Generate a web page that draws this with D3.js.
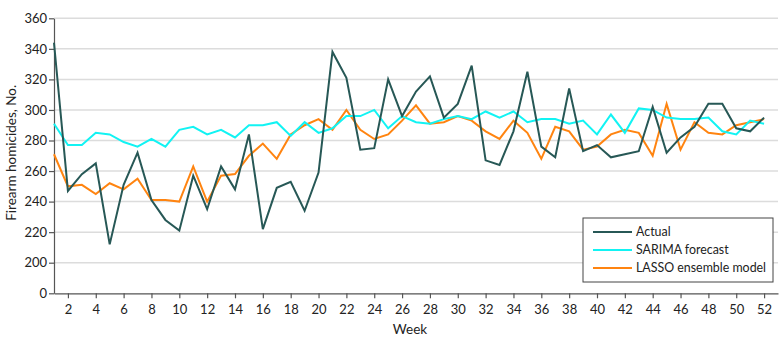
<!DOCTYPE html>
<html>
<head>
<meta charset="utf-8">
<script src="https://cdn.jsdelivr.net/npm/d3@7"></script>
<style>
  body { margin: 0; background: #fff; }
  text { font-family: Lato, sans-serif; fill: #222; }
</style>
</head>
<body>
<script>
let width = 780,
    height = 348

const weeks = d3.range(1, 53)
const actual = [344, 247, 258, 265, 212, 251, 272, 241, 228, 221, 257, 235, 263, 248,
  284, 222, 249, 253, 234, 259, 338, 321, 274, 275, 320, 296, 312, 322, 295, 304,
  329, 267, 264, 286, 325, 276, 269, 314, 273, 277, 269, 271, 273, 302, 272, 282,
  289, 304, 304, 288, 286, 295]
const sarima = [291, 277, 277, 285, 284, 279, 276, 281, 276, 287, 289, 284, 287, 282,
  290, 290, 292, 283, 292, 285, 288, 296, 296, 300, 288, 296, 292, 291, 294, 296,
  294, 299, 295, 299, 292, 294, 294, 291, 293, 284, 297, 285, 301, 300, 295, 294,
  294, 295, 286, 284, 293, 291]
const lasso = [271, 250, 251, 245, 252, 248, 255, 241, 241, 240, 263, 240, 257, 258,
  270, 278, 268, 284, 290, 294, 287, 300, 287, 281, 284, 293, 303, 291, 292, 296,
  293, 286, 281, 293, 285, 268, 289, 286, 274, 276, 284, 287, 285, 270, 304, 274,
  292, 285, 284, 290, 292, 294]
const yTicks = [0, 200, 220, 240, 260, 280, 300, 320, 340, 360]
const xTicks = d3.range(2, 53, 2)

const series = [
  {name: 'Actual', values: actual, color: '#275856'},
  {name: 'SARIMA forecast', values: sarima, color: '#12f3f3'},
  {name: 'LASSO ensemble model', values: lasso, color: '#ff8410'}
]

let svg = d3.select('body').append('svg')
  .attr('width', width)
  .attr('height', height)

const plotLeft = 54, plotRight = 778, plotTop = 18.3, plotBottom = 293.3

let x = d3.scaleLinear().domain([1, 53]).range([plotLeft, plotRight])
// broken axis: 0 sits one step below 200
let y = d3.scaleLinear().domain([0, 200, 360]).range([plotBottom, 262.7, plotTop])

// gridlines
svg.append('g')
  .selectAll('line')
  .data(yTicks.filter(d => d > 0))
  .join('line')
  .attr('x1', plotLeft).attr('x2', plotRight)
  .attr('y1', d => y(d)).attr('y2', d => y(d))
  .style('stroke', '#dcdcdc')
  .style('stroke-width', 1.5)

let xAxis = svg.append('g')
  .attr('transform', `translate(0,${plotBottom})`)
  .call(d3.axisBottom(x).tickValues(xTicks).tickSize(5).tickSizeOuter(0))
let yAxis = svg.append('g')
  .attr('transform', `translate(${plotLeft},0)`)
  .call(d3.axisLeft(y).tickValues(yTicks).tickSize(5).tickSizeOuter(0))

;[xAxis, yAxis].forEach(a => {
  a.select('.domain').style('stroke', '#555').style('stroke-width', 1.2)
  a.selectAll('.tick line').style('stroke', '#555').style('stroke-width', 1.2)
  a.selectAll('.tick text').style('font-size', '13px').style('font-family', 'Lato, sans-serif').style('fill', '#222')
})
xAxis.selectAll('.tick text').attr('dy', '0.95em')
yAxis.selectAll('.tick text').attr('x', -7)

let line = d3.line()
  .x((d, i) => x(weeks[i]))
  .y(d => y(d))

svg.append('g')
  .selectAll('path')
  .data(series.slice().reverse())
  .join('path')
  .attr('d', d => line(d.values))
  .style('fill', 'none')
  .style('stroke', d => d.color)
  .style('stroke-width', 2)
  .style('stroke-linejoin', 'miter')

// axis titles
svg.append('text')
  .attr('transform', `translate(16,${(plotTop + plotBottom) / 2 - 3}) rotate(-90)`)
  .attr('text-anchor', 'middle')
  .style('font-size', '13.5px')
  .text('Firearm homicides, No.')

svg.append('text')
  .attr('x', 410).attr('y', 334)
  .attr('text-anchor', 'middle')
  .style('font-size', '13.5px')
  .text('Week')

// legend
let legend = svg.append('g').attr('transform', 'translate(583,218)')
legend.append('rect')
  .attr('width', 190).attr('height', 64)
  .style('fill', '#fff')
  .style('stroke', '#444')
  .style('stroke-width', 1)

let rows = legend.selectAll('.row')
  .data(series)
  .join('g')
  .attr('class', 'row')
  .attr('transform', (d, i) => `translate(0,${14 + i * 18})`)
rows.append('line')
  .attr('x1', 10).attr('x2', 49)
  .style('stroke', d => d.color)
  .style('stroke-width', 2)
rows.append('text')
  .attr('x', 53).attr('dy', '0.35em')
  .style('font-size', '12.4px')
  .text(d => d.name)
</script>
</body>
</html>
